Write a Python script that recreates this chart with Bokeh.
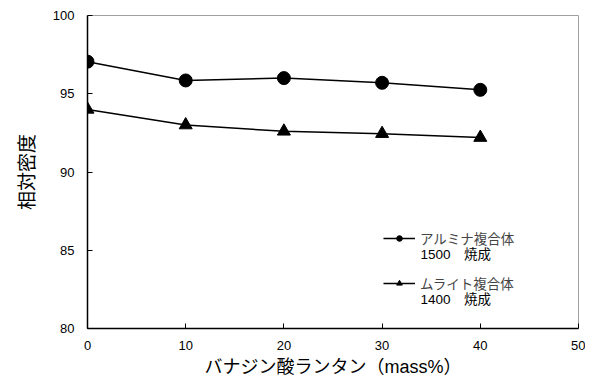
from bokeh.plotting import figure
from bokeh.models import Legend, LegendItem, FixedTicker, Range1d, Label
from bokeh.embed import file_html
from bokeh.resources import INLINE

x_vals = [0, 10, 20, 30, 40]
alumina = [97.05, 95.85, 96.0, 95.7, 95.25]
mullite = [94.0, 93.0, 92.6, 92.45, 92.2]
x_ticks = [0, 10, 20, 30, 40, 50]
y_ticks = [80, 85, 90, 95, 100]
label_alumina = "アルミナ複合体"
sub_alumina = "1500　焼成"
label_mullite = "ムライト複合体"
sub_mullite = "1400　焼成"
x_title = "バナジン酸ランタン（mass%）"
y_title = "相対密度"

FONT = "'Liberation Sans', 'Noto Sans CJK JP'"

p = figure(width=585, height=380, output_backend="svg", toolbar_location=None,
           x_range=Range1d(0, 50), y_range=Range1d(80, 100),
           min_border_left=87, min_border_right=7, min_border_top=15, min_border_bottom=52)
p.background_fill_color = "white"
p.border_fill_color = "white"
p.outline_line_color = "#a0a0a0"
p.outline_line_width = 1
p.grid.visible = False

for ax in (p.xaxis[0], p.yaxis[0]):
    ax.axis_line_color = "black"
    ax.axis_line_width = 1.5
    ax.major_tick_line_color = "black"
    ax.major_tick_in = 5
    ax.major_tick_out = 0
    ax.minor_tick_line_color = None
    ax.major_label_text_font = FONT
    ax.major_label_text_font_size = "13px"
    ax.major_label_text_color = "black"
    ax.axis_label_text_font = FONT
    ax.axis_label_text_font_style = "normal"
    ax.axis_label_text_color = "black"

p.xaxis[0].ticker = FixedTicker(ticks=x_ticks)
p.yaxis[0].ticker = FixedTicker(ticks=y_ticks)
p.xaxis[0].major_label_standoff = 12
p.yaxis[0].major_label_standoff = 13
p.xaxis[0].axis_label = x_title
p.yaxis[0].axis_label = y_title
p.xaxis[0].axis_label_text_font_size = "18px"
p.yaxis[0].axis_label_text_font_size = "19px"
p.xaxis[0].axis_label_standoff = 4
p.yaxis[0].axis_label_standoff = 12

l1 = p.line(x_vals, alumina, line_color="black", line_width=1.5)
m1 = p.scatter(x_vals, alumina, marker="circle", size=13, fill_color="black", line_color="black")
l2 = p.line(x_vals, mullite, line_color="black", line_width=1.5)
m2 = p.scatter(x_vals, mullite, marker="triangle", size=13, fill_color="black", line_color="black")

legend = Legend(items=[LegendItem(label=label_alumina, renderers=[l1, m1]),
                       LegendItem(label=label_mullite, renderers=[l2, m2])],
                location=(296, 35))
legend.border_line_color = None
legend.background_fill_alpha = 0
legend.label_text_font = FONT
legend.label_text_font_size = "13.5px"
legend.glyph_width = 32
legend.glyph_height = 14
legend.label_height = 14
legend.label_standoff = 5
legend.spacing = 25
legend.padding = 0
legend.margin = 0
p.add_layout(legend)

for txt, yv in ((sub_alumina, 84.73), (sub_mullite, 81.85)):
    p.add_layout(Label(x=33.9, y=yv, text=txt, text_font=FONT, text_font_size="13.5px",
                       text_baseline="middle", text_align="left", text_color="black"))

open("out.html", "w").write(file_html(p, INLINE))
